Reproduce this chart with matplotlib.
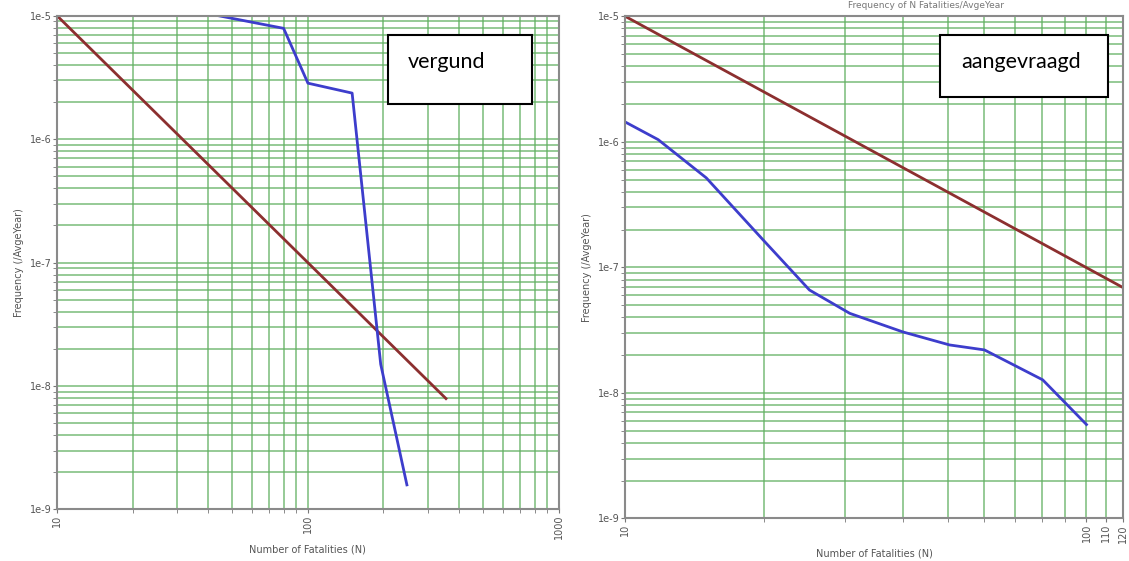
import matplotlib
matplotlib.use("Agg")
import matplotlib.pyplot as plt
from matplotlib.ticker import LogLocator, FixedLocator, NullFormatter

# left panel: permitted situation ("vergund")
left_red_n = [10, 355]
left_red_f = [1e-5, 7.9e-9]
left_blue_n = [44, 80, 100, 150, 195, 248]
left_blue_f = [1e-5, 7.9e-6, 2.84e-6, 2.36e-6, 1.5e-8, 1.58e-9]

# right panel: requested situation ("aangevraagd")
right_red_n = [10, 120]
right_red_f = [1e-5, 6.9e-8]
right_blue_n = [10, 11.8, 15.0, 19.9, 25.1, 30.7, 40, 50.5, 60.1, 80.4, 100]
right_blue_f = [1.44e-6, 1.04e-6, 5.16e-7, 1.66e-7, 6.6e-8, 4.3e-8, 3.06e-8,
                2.41e-8, 2.2e-8, 1.27e-8, 5.6e-9]

y_ticks = [1e-9, 1e-8, 1e-7, 1e-6, 1e-5]
y_labels = ["1e-9", "1e-8", "1e-7", "1e-6", "1e-5"]
left_x_ticks = [10, 100, 1000]
right_x_ticks = [10, 100, 110, 120]

grid_green = "#62b062"
red = "#8c2f2f"
blue = "#3d3dcc"
label_col = "#555555"


def style_axes(ax, xmin, xmax, xticks):
    ax.set_xscale("log")
    ax.set_yscale("log")
    ax.set_xlim(xmin, xmax)
    ax.set_ylim(1e-9, 1e-5)
    # green grid at every major and minor decade step
    ax.xaxis.set_minor_locator(LogLocator(base=10, subs=range(2, 10)))
    ax.yaxis.set_minor_locator(LogLocator(base=10, subs=range(2, 10)))
    ax.grid(True, which="both", color=grid_green, lw=1.1, alpha=0.85)
    ax.set_axisbelow(True)
    ax.xaxis.set_major_locator(FixedLocator(xticks))
    ax.set_xticklabels([str(t) for t in xticks], rotation=90, fontsize=7,
                       color=label_col)
    ax.xaxis.set_minor_formatter(NullFormatter())
    ax.yaxis.set_major_locator(FixedLocator(y_ticks))
    ax.set_yticklabels(y_labels, fontsize=7, color=label_col)
    ax.yaxis.set_minor_formatter(NullFormatter())
    ax.tick_params(which="both", direction="out", length=3, color="#777777",
                   pad=1)
    for s in ax.spines.values():
        s.set_color("#8a8a8a")
        s.set_linewidth(1.5)
    ax.set_xlabel("Number of Fatalities (N)", fontsize=7, color=label_col)
    ax.set_ylabel("Frequency (/AvgeYear)", fontsize=7, color=label_col)


fig = plt.figure(figsize=(11.29, 5.61), dpi=100)
ax1 = fig.add_axes([0.0505, 0.092, 0.4445, 0.880])
ax2 = fig.add_axes([0.5536, 0.0758, 0.4411, 0.8953])

style_axes(ax1, 10, 1000, left_x_ticks)
ax1.plot(left_red_n, left_red_f, color=red, lw=2)
ax1.plot(left_blue_n, left_blue_f, color=blue, lw=2)

style_axes(ax2, 10, 120, right_x_ticks)
ax2.plot(right_red_n, right_red_f, color=red, lw=2)
ax2.plot(right_blue_n, right_blue_f, color=blue, lw=2)

# labels in white boxes
fig.patches.append(plt.Rectangle((388 / 1129, 1 - 104 / 561), 144 / 1129,
                                 69 / 561, transform=fig.transFigure,
                                 fc="white", ec="black", lw=1.5, zorder=5))
fig.patches.append(plt.Rectangle((940 / 1129, 1 - 97 / 561), 168 / 1129,
                                 62 / 561, transform=fig.transFigure,
                                 fc="white", ec="black", lw=1.5, zorder=5))
fig.text(408 / 1129, 1 - 62 / 561, "vergund", fontsize=15.5, family="Lato",
         va="center", ha="left", zorder=6)
fig.text(961 / 1129, 1 - 62 / 561, "aangevraagd", fontsize=15.5,
         family="Lato", va="center", ha="left", zorder=6)

# chart title above the right panel
fig.text(0.82, 0.998, "Frequency of N Fatalities/AvgeYear", fontsize=6.5,
         color="#777777", ha="center", va="top")

fig.savefig("out.png", dpi=100)
